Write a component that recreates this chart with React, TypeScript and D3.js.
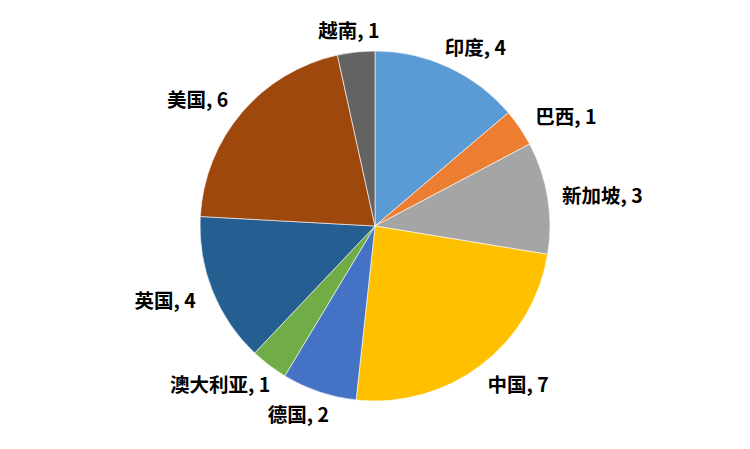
import React, { useEffect, useRef } from "react";
import * as d3 from "d3";

const categories = ["印度", "巴西", "新加坡", "中国", "德国", "澳大利亚", "英国", "美国", "越南"];
const values = [4, 1, 3, 7, 2, 1, 4, 6, 1];
const colors = ["#5B9BD5", "#ED7D31", "#A5A5A5", "#FFC000", "#4472C4", "#70AD47", "#255E91", "#9E480E", "#636363"];

const W = 750;
const H = 449;

export default function App() {
  const ref = useRef<SVGSVGElement>(null);
  useEffect(() => {
    const svg = d3.select(ref.current);
    svg.selectAll("*").remove();
    const cx = 375, cy = 226, r = 175;
    const g = svg.append("g").attr("transform", `translate(${cx},${cy})`);
    const data = categories.map((c, i) => ({ c, v: values[i], col: colors[i] }));
    const pie = d3.pie<any>().value((d) => d.v).sort(null);
    const arcs = pie(data);
    const arc = d3.arc<any>().innerRadius(0).outerRadius(r);
    g.selectAll("path").data(arcs).join("path")
      .attr("d", arc as any)
      .attr("fill", (d: any) => d.data.col)
      .attr("stroke", "#ffffff")
      .attr("stroke-width", 0.6);
    const gap = 11;
    arcs.forEach((a: any) => {
      const th = (a.startAngle + a.endAngle) / 2;
      const s = Math.sin(th), c = Math.cos(th);
      const t = g.append("text")
        .attr("font-family", "'Noto Sans CJK SC', 'Noto Sans', sans-serif")
        .attr("font-weight", "bold")
        .attr("font-size", 19.5)
        .attr("fill", "#000")
        .attr("text-anchor", "middle")
        .attr("dominant-baseline", "central")
        .text(`${a.data.c}, ${a.data.v}`);
      const bb = (t.node() as SVGTextElement).getBBox();
      const w = bb.width, h = bb.height * 0.8;
      const px = (r + gap) * s + s * w / 2 + s * Math.abs(c) * 25;
      const py = -(r + gap) * c - c * h / 2;
      t.attr("x", px).attr("y", py);
    });
  }, []);
  return (
    <svg ref={ref} width={W} height={H} style={{ position: "absolute", left: 0, top: 0, background: "#fff" }} />
  );
}
